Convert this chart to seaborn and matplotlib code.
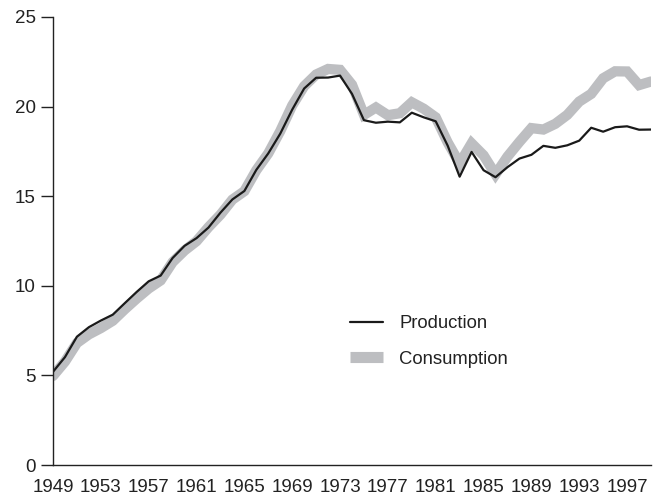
import matplotlib
matplotlib.use("Agg")
import matplotlib.pyplot as plt
import seaborn as sns
import pandas as pd
from matplotlib.lines import Line2D

years = list(range(1949, 2000))
production = [5.20, 6.02, 7.16, 7.69, 8.06, 8.39, 9.03, 9.66, 10.25, 10.57,
              11.55, 12.23, 12.66, 13.25, 14.08, 14.82, 15.29, 16.47, 17.39, 18.49,
              19.83, 21.01, 21.61, 21.62, 21.73, 20.71, 19.24, 19.10, 19.16, 19.12,
              19.66, 19.40, 19.18, 17.82, 16.09, 17.47, 16.45, 16.06, 16.62, 17.10,
              17.31, 17.81, 17.70, 17.84, 18.10, 18.82, 18.60, 18.85, 18.90, 18.71,
              18.72]
consumption = [4.97, 5.77, 6.81, 7.29, 7.64, 8.05, 8.69, 9.29, 9.85, 10.30,
               11.32, 11.97, 12.49, 13.27, 13.97, 14.81, 15.28, 16.45, 17.39, 18.63,
               20.06, 21.14, 21.79, 22.10, 22.05, 21.22, 19.54, 19.95, 19.52, 19.63,
               20.24, 19.88, 19.40, 18.00, 16.83, 17.95, 17.28, 16.22, 17.21, 18.03,
               18.80, 18.72, 19.04, 19.54, 20.28, 20.71, 21.58, 21.97, 21.96, 21.20,
               21.40]
xtick_years = list(range(1949, 1999, 4))
ytick_vals = [0, 5, 10, 15, 20, 25]

sns.set_style("ticks")
plt.rcParams['font.family'] = ['Liberation Sans', 'DejaVu Sans']

df = pd.DataFrame({"year": years, "Production": production, "Consumption": consumption})

fig = plt.figure(figsize=(6.59, 4.96), dpi=100)
ax = fig.add_axes([53/659, 31/496, 598/659, 448/496])

gray = "#bdbec1"
black = "#1a1a1a"
sns.lineplot(data=df, x="year", y="Consumption", ax=ax, color=gray, linewidth=7.4,
             solid_joinstyle="miter")
sns.lineplot(data=df, x="year", y="Production", ax=ax, color=black, linewidth=1.6)

ax.set_xlim(1949, 1999)
ax.set_ylim(0, 25)
ax.set_xticks(xtick_years)
ax.set_yticks(ytick_vals)
ax.set_xlabel("")
ax.set_ylabel("")
sns.despine(ax=ax)
for s in ["left", "bottom"]:
    ax.spines[s].set_color("#222222")
    ax.spines[s].set_linewidth(1.0)
ax.tick_params(axis="y", length=9, width=1.0, pad=3.5, labelsize=13.5, colors="#222222")
ax.tick_params(axis="x", length=0, pad=10, labelsize=13.5, colors="#222222")
ax.spines["bottom"].set_bounds(1949, 1999)

handles = [Line2D([0], [0], color=black, linewidth=1.6),
           Line2D([0], [0], color=gray, linewidth=8, solid_capstyle="butt")]
ax.legend(handles, ["Production", "Consumption"], loc="center left",
          bbox_to_anchor=(0.497, 0.2757), frameon=False, fontsize=13.3,
          handlelength=1.75, handletextpad=0.9, labelspacing=1.0,
          borderpad=0, borderaxespad=0, labelcolor="#222222")

fig.savefig("out.png", dpi=100)
